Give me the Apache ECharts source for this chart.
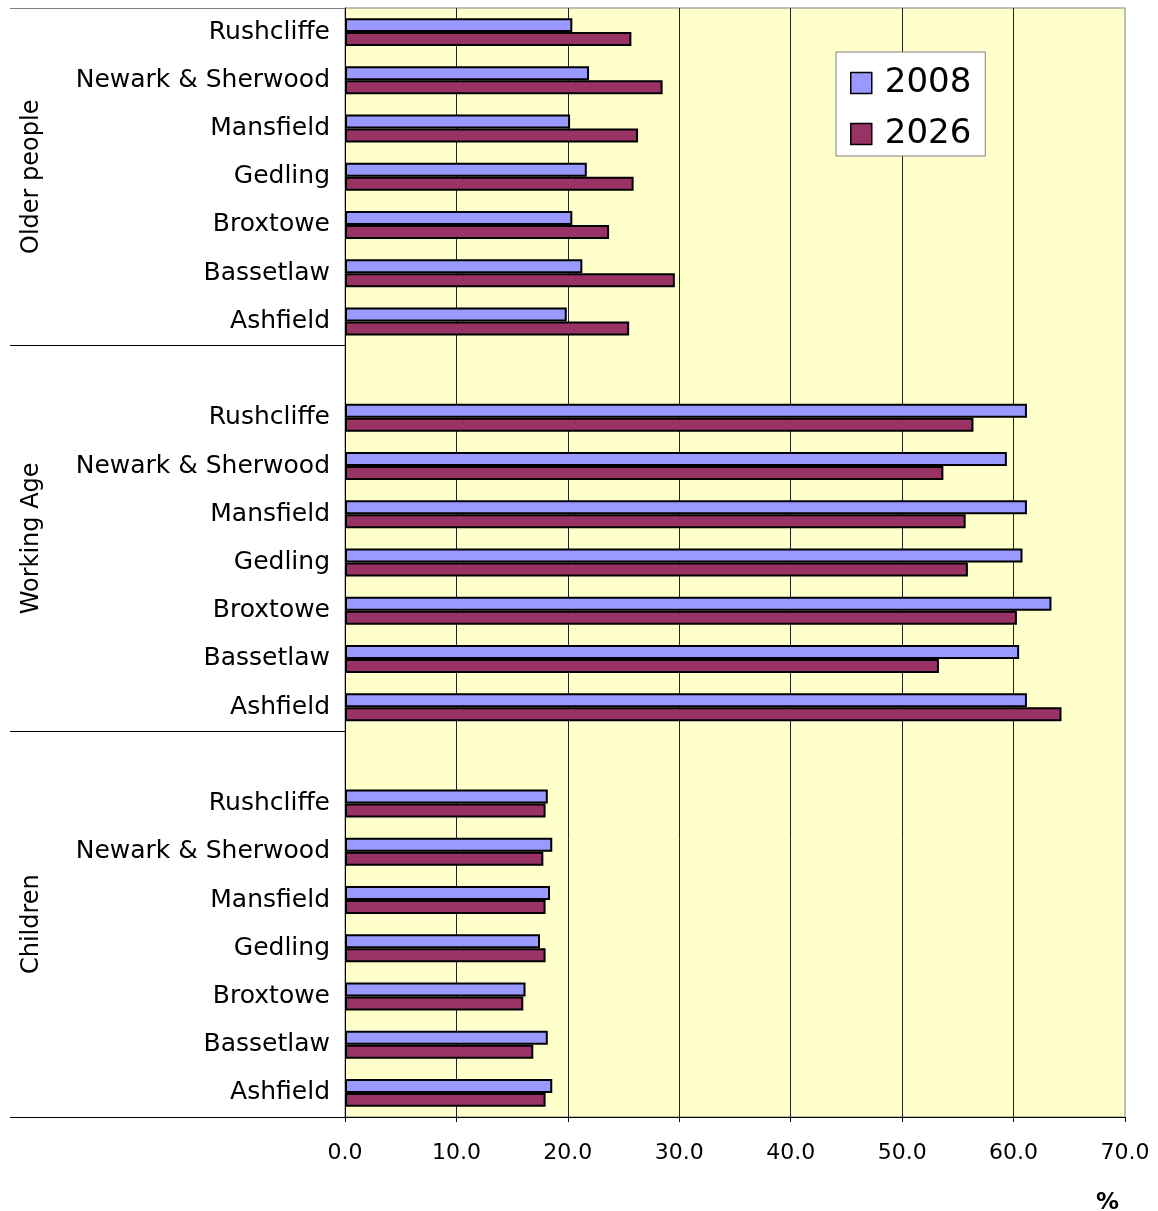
<!DOCTYPE html>
<html>
<head>
<meta charset="utf-8">
<script src="https://cdn.jsdelivr.net/npm/echarts@6/dist/echarts.min.js"></script>
<style>
html,body{margin:0;padding:0;background:#fff;}
#chart{width:1158px;height:1211px;}
</style>
</head>
<body>
<div id="chart"></div>
<script>
// Districts listed bottom-to-top as in the chart
const districts = ['Ashfield', 'Bassetlaw', 'Broxtowe', 'Gedling', 'Mansfield', 'Newark & Sherwood', 'Rushcliffe'];
// Groups bottom-to-top
const groups = ['Children', 'Working Age', 'Older people'];
const years = ['2008', '2026'];

const children2008 = [18.6, 18.2, 16.2, 17.5, 18.4, 18.6, 18.2];
const children2026 = [18.0, 16.9, 16.0, 18.0, 18.0, 17.8, 18.0];
const working2008  = [61.2, 60.5, 63.4, 60.8, 61.2, 59.4, 61.2];
const working2026  = [64.3, 53.3, 60.3, 55.9, 55.7, 53.7, 56.4];
const older2008    = [19.9, 21.3, 20.4, 21.7, 20.2, 21.9, 20.4];
const older2026    = [25.5, 29.6, 23.7, 25.9, 26.3, 28.5, 25.7];

const groupValues2008 = [children2008, working2008, older2008];
const groupValues2026 = [children2026, working2026, older2026];

// Build the category list: a blank slot at the top of every group but the last
const catKeys = [];
const catLabels = {};
const vals2008 = [];
const vals2026 = [];
const groupStart = [];
const groupEnd = [];
groups.forEach(function (g, gi) {
  groupStart.push(catKeys.length);
  districts.forEach(function (d, di) {
    const k = g + '|' + d;
    catKeys.push(k); catLabels[k] = d;
    vals2008.push(groupValues2008[gi][di]);
    vals2026.push(groupValues2026[gi][di]);
  });
  if (gi < groups.length - 1) {
    const k = 'blank_' + gi;
    catKeys.push(k); catLabels[k] = '';
    vals2008.push(null); vals2026.push(null);
  }
  groupEnd.push(catKeys.length);
});
const nSlots = catKeys.length;
const groupCenters = groupStart.map(function (s, i) { return (s + groupEnd[i]) / 2; });
const groupBounds = groupStart.slice();

const FONT = "'DejaVu Sans', Verdana, sans-serif";

const chart = echarts.init(document.getElementById('chart'), null, {renderer: 'canvas'});
chart.setOption({
  backgroundColor: '#ffffff',
  animation: false,
  textStyle: {fontFamily: FONT},
  title: {
    text: '%',
    left: 1096,
    top: 1192,
    padding: 0,
    textStyle: {fontFamily: FONT, fontSize: 23, fontWeight: 'bold', color: '#000'}
  },
  legend: {
    data: years,
    orient: 'vertical',
    left: 836,
    top: 52,
    backgroundColor: '#ffffff',
    borderColor: '#808080',
    borderWidth: 1,
    padding: [14, 14, 5, 14],
    itemWidth: 21,
    itemHeight: 21,
    itemGap: 17,
    icon: 'rect',
    itemStyle: {borderColor: '#000', borderWidth: 1.5},
    textStyle: {fontFamily: FONT, fontSize: 34, color: '#000', padding: [0, 0, 0, 8]}
  },
  grid: {
    left: 345,
    right: 33,
    top: 8,
    bottom: 94,
    show: true,
    backgroundColor: '#FFFFCC',
    borderColor: '#808080',
    borderWidth: 1,
    containLabel: false
  },
  xAxis: {
    type: 'value',
    min: 0,
    max: 70,
    interval: 10,
    axisLine: {show: true, lineStyle: {color: '#000', width: 1}},
    axisTick: {show: true, length: 5, lineStyle: {color: '#000'}},
    axisLabel: {
      margin: 25,
      fontFamily: FONT, fontSize: 22, color: '#000',
      formatter: function (v) { return v.toFixed(1); }
    },
    splitLine: {show: true, showMinLine: false, showMaxLine: false, lineStyle: {color: '#222', width: 1}}
  },
  yAxis: [
    {
      type: 'category',
      data: catKeys,
      axisLine: {show: true, lineStyle: {color: '#000', width: 1}},
      axisTick: {show: false},
      axisLabel: {
        margin: 15,
        padding: [9, 0, 0, 0],
        fontFamily: FONT, fontSize: 25, color: '#000',
        interval: 0,
        formatter: function (v) { return catLabels[v]; }
      },
      splitLine: {show: false}
    },
    {
      type: 'value',
      min: 0,
      max: nSlots,
      position: 'left',
      axisLine: {show: false},
      axisTick: {show: true, customValues: groupBounds, length: 335, inside: false, lineStyle: {color: '#000', width: 1}},
      axisLabel: {
        show: true,
        customValues: groupCenters,
        rotate: 90,
        margin: 301,
        fontFamily: FONT, fontSize: 24, color: '#000',
        formatter: function (v) {
          const i = groupCenters.indexOf(v);
          return i >= 0 ? groups[i] : '';
        }
      },
      splitLine: {show: false}
    },
    {
      type: 'value',
      min: 0,
      max: nSlots,
      position: 'left',
      axisLine: {show: false},
      axisTick: {show: true, customValues: [nSlots], length: 335, lineStyle: {color: '#808080', width: 1}},
      axisLabel: {show: false},
      splitLine: {show: false}
    }
  ],
  series: [
    {
      name: years[0],
      type: 'bar',
      yAxisIndex: 0,
      data: vals2008,
      barGap: '0%',
      barCategoryGap: '42%',
      itemStyle: {color: '#9999FF', borderColor: '#000', borderWidth: 2}
    },
    {
      name: years[1],
      type: 'bar',
      yAxisIndex: 0,
      data: vals2026,
      barGap: '0%',
      barCategoryGap: '42%',
      itemStyle: {color: '#993366', borderColor: '#000', borderWidth: 2}
    }
  ]
});
</script>
</body>
</html>
